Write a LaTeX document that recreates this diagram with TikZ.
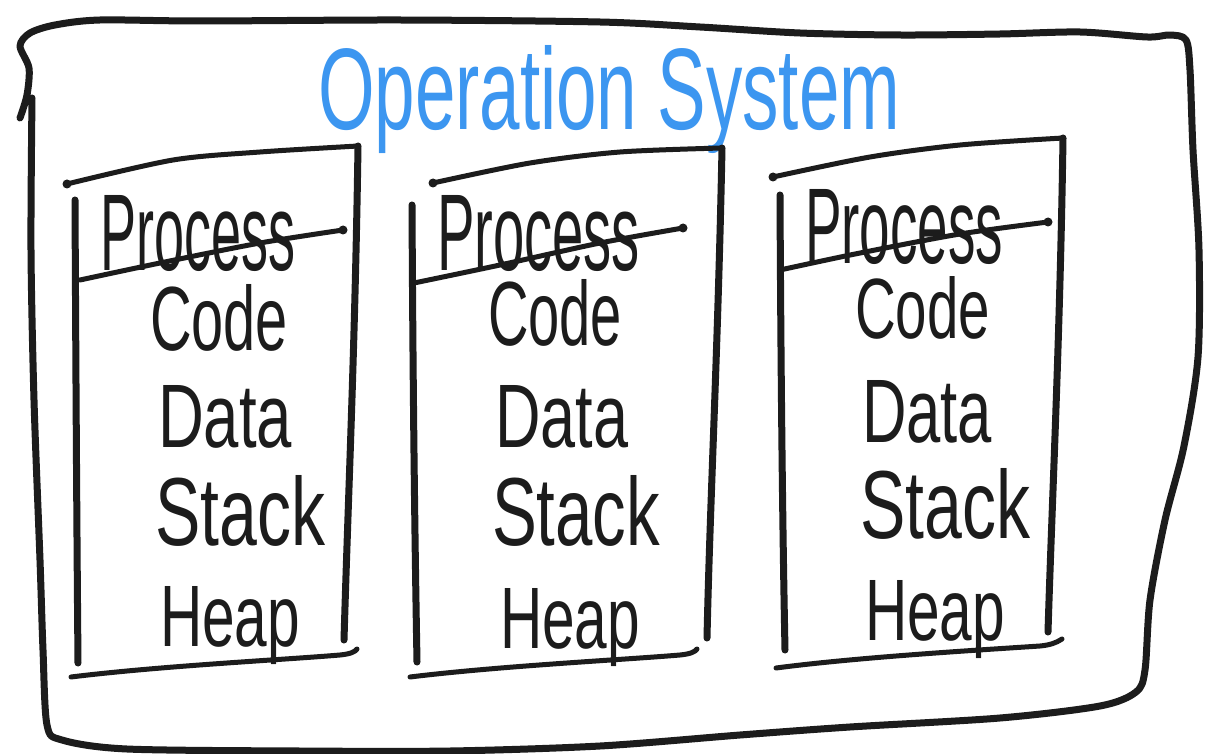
\documentclass[tikz,border=0pt]{standalone}
\usepackage{fontspec}
\setmainfont{Liberation Sans}
\usepackage{graphicx}
\definecolor{ink}{HTML}{1C1C1C}
\definecolor{blueink}{HTML}{3C96F0}
\tikzset{
  pen/.style={draw=ink, line width=7pt, line cap=round, line join=round},
  thinpen/.style={draw=ink, line width=5pt, line cap=round, line join=round},
  dotend/.style={fill=ink, draw=none},
  word/.style={inner sep=0pt, outer sep=0pt, text=ink, anchor=base west},
  title/.style={inner sep=0pt, outer sep=0pt, text=blueink, anchor=base west}
}
\newcommand{\hw}[3]{\resizebox{#1pt}{#2pt}{#3}}
\begin{document}
\begin{tikzpicture}[x=1pt,y=-1pt]
\useasboundingbox[fill=white] (0,0) rectangle (1229,754);

% ---------- outer box ----------
\draw[pen] plot[smooth, tension=0.5] coordinates {(20,118) (27,95) (29,68) (20,46) (30,33) (55,25) (100,20) (200,21) (400,20) (600,22) (700,27) (800,33) (900,35) (1000,34) (1080,32) (1147,37) (1170,35) (1186,40) (1190,70) (1193,150) (1199,250) (1198,357) (1184,446) (1165,520) (1150,600) (1145,670) (1136,692) (1100,706) (1000,718) (850,727) (740,735) (600,746) (450,751) (300,751) (127,749) (62,740) (47,725) (43,650) (40,560) (34,400) (31,250) (32,98)};

% ---------- title ----------
\node[title] (ostitle) at (318,130) {\hw{582}{84}{Operation System}};

% ---------- process 1 ----------
\draw[thinpen] plot[smooth] coordinates {(67,184) (173,160) (260,152) (358,146)};
\fill[dotend] (67,184) circle (4.5);
\draw[pen] (358,146) .. controls (355,350) and (348,500) .. (344,640);
\draw[pen] (75,200) .. controls (76,400) and (77,550) .. (78,663);
\draw[thinpen] (71,677) .. controls (160,666) and (280,660) .. (340,655) .. controls (350,654) and (355,652) .. (357,649);
\node[word] (p1name) at (100,270) {\hw{195}{75}{Process}};
\draw[thinpen] plot[smooth] coordinates {(80,280) (160,263) (260,243) (343,230)};
\fill[dotend] (343,230) circle (4.5);
\node[word] (p1code) at (150,350) {\hw{138}{66}{Code}};
\node[word] (p1data) at (158,447) {\hw{134}{62}{Data}};
\node[word] (p1stack) at (155,545) {\hw{170}{70}{Stack}};
\node[word] (p1heap) at (160,646) {\hw{140}{60}{Heap}};

% ---------- process 2 ----------
\draw[thinpen] plot[smooth] coordinates {(433,183) (530,163) (620,152) (722,148)};
\fill[dotend] (433,183) circle (4.5);
\draw[pen] (722,148) .. controls (718,350) and (710,500) .. (707,638);
\draw[pen] (412,205) .. controls (413,400) and (415,550) .. (417,662);
\draw[thinpen] (410,677) .. controls (500,666) and (620,660) .. (680,655) .. controls (690,654) and (695,652) .. (697,649);
\node[word] (p2name) at (437,270) {\hw{203}{75}{Process}};
\draw[thinpen] plot[smooth] coordinates {(414,283) (500,265) (600,243) (683,228)};
\fill[dotend] (683,228) circle (4.5);
\node[word] (p2code) at (488,345) {\hw{134}{66}{Code}};
\node[word] (p2data) at (495,447) {\hw{133}{62}{Data}};
\node[word] (p2stack) at (492,545) {\hw{168}{70}{Stack}};
\node[word] (p2heap) at (500,648) {\hw{140}{60}{Heap}};

% ---------- process 3 ----------
\draw[thinpen] plot[smooth] coordinates {(773,177) (870,157) (960,145) (1063,138)};
\fill[dotend] (773,177) circle (4.5);
\draw[pen] (1063,138) .. controls (1060,340) and (1052,500) .. (1048,632);
\draw[pen] (780,195) .. controls (781,400) and (783,550) .. (785,650);
\draw[thinpen] (776,668) .. controls (860,657) and (980,650) .. (1040,646) .. controls (1050,645) and (1056,643) .. (1062,639);
\node[word] (p3name) at (805,264) {\hw{198}{74}{Process}};
\draw[thinpen] plot[smooth] coordinates {(780,270) (860,253) (960,234) (1048,222)};
\fill[dotend] (1048,222) circle (4.5);
\node[word] (p3code) at (855,338) {\hw{135}{62}{Code}};
\node[word] (p3data) at (862,442) {\hw{130}{62}{Data}};
\node[word] (p3stack) at (860,538) {\hw{170}{70}{Stack}};
\node[word] (p3heap) at (865,640) {\hw{140}{60}{Heap}};
\end{tikzpicture}
\end{document}
